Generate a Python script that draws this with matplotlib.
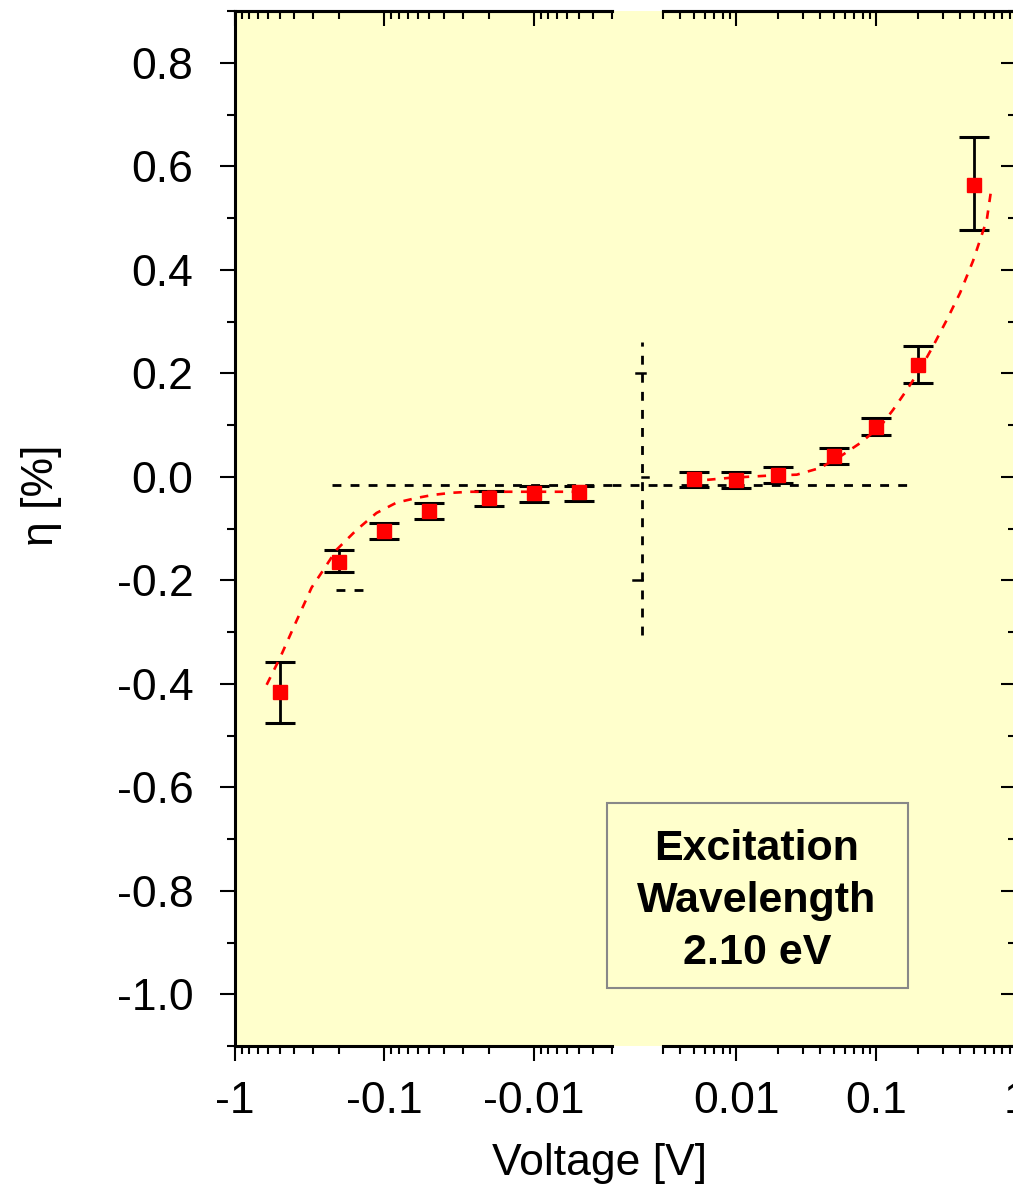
import matplotlib
matplotlib.use('Agg')
import matplotlib.pyplot as plt
from matplotlib.ticker import LogLocator, FixedLocator, MultipleLocator, FuncFormatter, NullFormatter
from matplotlib.patches import Rectangle

plt.rcParams['font.family'] = ['Liberation Sans', 'DejaVu Sans']
plt.rcParams['axes.unicode_minus'] = False

# ---------------- data ----------------
# negative bias (plotted as |V| on inverted log axis)
v_neg = [0.5, 0.2, 0.1, 0.05, 0.02, 0.01, 0.005]
eta_neg = [-0.416, -0.164, -0.104, -0.066, -0.042, -0.032, -0.030]
eta_neg_top = [-0.358, -0.141, -0.090, -0.051, -0.027, -0.017, -0.017]
eta_neg_bot = [-0.475, -0.185, -0.120, -0.081, -0.057, -0.048, -0.046]

# positive bias
v_pos = [0.005, 0.01, 0.02, 0.05, 0.1, 0.2, 0.5]
eta_pos = [-0.005, -0.006, 0.004, 0.041, 0.097, 0.216, 0.564]
eta_pos_top = [0.010, 0.009, 0.019, 0.055, 0.113, 0.252, 0.656]
eta_pos_bot = [-0.019, -0.022, -0.012, 0.025, 0.080, 0.182, 0.477]

# fit curves
fit_neg_v = [0.614, 0.5, 0.387, 0.307, 0.263, 0.209, 0.154, 0.113, 0.083, 0.061,
             0.047, 0.0355, 0.0268, 0.0145, 0.0053]
fit_neg_eta = [-0.402, -0.350, -0.278, -0.214, -0.185, -0.141, -0.103, -0.070, -0.050,
               -0.041, -0.035, -0.031, -0.029, -0.029, -0.029]
fit_pos_v = [0.0062, 0.0091, 0.0166, 0.0271, 0.0398, 0.0553, 0.0769, 0.107, 0.132,
             0.166, 0.206, 0.255, 0.320, 0.398, 0.493, 0.618, 0.66]
fit_pos_eta = [-0.006, -0.002, 0.002, 0.004, 0.017, 0.039, 0.065, 0.097, 0.129,
               0.168, 0.207, 0.252, 0.303, 0.355, 0.417, 0.496, 0.549]

# reference dashed lines
ref_level = -0.0155
ref_neg_start = 0.224
ref_pos_end = 0.18
short_dash_level = -0.218
short_dash_v = [0.211, 0.139]
vline_range = [-0.305, 0.261]

x_left_ticks = [1, 0.1, 0.01]
x_right_ticks = [0.01, 0.1, 1]
y_ticks = [-1.0, -0.8, -0.6, -0.4, -0.2, 0.0, 0.2, 0.4, 0.6, 0.8]

# ---------------- figure ----------------
W, H = 1013, 1187
fig = plt.figure(figsize=(W / 100, H / 100), dpi=100)


def fx(px):
    return px / W


def fy(py):
    return 1 - py / H


YELLOW = '#FFFFCC'
TOP, BOT = 11, 1046
fig.patches.append(Rectangle((fx(235), fy(BOT)), fx(1013) - fx(235) + 0.01, fy(TOP) - fy(BOT),
                             transform=fig.transFigure, facecolor=YELLOW, edgecolor='none',
                             zorder=-1))

YLIM = (-1.1, 0.9)
LW_SP = 2.2
TICK_W = 1.5
MAJ, MIN = 11, 5.5
FS = 32


def make_axes(x0, x1):
    rect = [fx(x0), fy(BOT), fx(x1) - fx(x0), fy(TOP) - fy(BOT)]
    ax = fig.add_axes(rect)
    axt = fig.add_axes(rect)
    for a in (ax, axt):
        a.patch.set_visible(False)
        a.set_xscale('log')
        a.set_ylim(*YLIM)
        for s in a.spines.values():
            s.set_linewidth(LW_SP)
    return ax, axt


def setup_x(ax, axt, xlim, ticks, fmt):
    for a in (ax, axt):
        a.set_xlim(*xlim)
        a.xaxis.set_major_locator(FixedLocator(ticks))
        a.xaxis.set_minor_locator(LogLocator(base=10, subs=range(2, 10), numticks=20))
        a.xaxis.set_minor_formatter(NullFormatter())
    ax.xaxis.set_major_formatter(FuncFormatter(fmt))
    ax.tick_params(axis='x', which='both', bottom=True, top=False, direction='out',
                   width=TICK_W, labelsize=FS, pad=14)
    ax.tick_params(axis='x', which='major', length=MAJ)
    ax.tick_params(axis='x', which='minor', length=MIN)
    axt.xaxis.set_major_formatter(NullFormatter())
    axt.tick_params(axis='x', which='both', bottom=False, top=True, labelbottom=False,
                    direction='in', width=TICK_W)
    axt.tick_params(axis='x', which='major', length=MAJ)
    axt.tick_params(axis='x', which='minor', length=MIN)
    axt.tick_params(axis='y', which='both', left=False, right=False, labelleft=False)
    for s in ['left', 'right', 'bottom']:
        axt.spines[s].set_visible(False)


axL, axLt = make_axes(235, 612)
axR, axRt = make_axes(663, 1016)

setup_x(axL, axLt, (1, 0.003), x_left_ticks, lambda v, p: '-%g' % v)
setup_x(axR, axRt, (0.003, 1.0), x_right_ticks, lambda v, p: '%g' % v)

axL.spines['right'].set_visible(False)
axR.spines['left'].set_visible(False)

for a in (axL, axR):
    a.yaxis.set_major_locator(FixedLocator(y_ticks))
    a.yaxis.set_minor_locator(MultipleLocator(0.1))

axL.yaxis.set_major_formatter(FuncFormatter(lambda v, p: '%.1f' % v))
axL.tick_params(axis='y', which='both', left=True, right=False, direction='out',
                width=TICK_W, labelsize=FS, pad=19)
axL.tick_params(axis='y', which='major', length=MAJ)
axL.tick_params(axis='y', which='minor', length=MIN)

axR.tick_params(axis='y', which='both', left=False, right=True, labelleft=False,
                direction='in', width=TICK_W)
axR.tick_params(axis='y', which='major', length=MAJ)
axR.tick_params(axis='y', which='minor', length=MIN)

# ---------------- data drawing ----------------
DASH_RED = (0, (3.2, 3.2))
DASH_BLK = (0, (3.2, 3.3))
LW_RED = 1.9
LW_BLK = 2.0


def draw(ax, v, eta, top, bot, fv, feta):
    yerr = [[e - b for e, b in zip(eta, bot)], [t - e for t, e in zip(top, eta)]]
    ax.errorbar(v, eta, yerr=yerr, fmt='none', ecolor='black', elinewidth=2.0,
                capsize=11, capthick=2.2, zorder=3)
    ax.plot(fv, feta, color='red', lw=LW_RED, ls=DASH_RED, zorder=4)
    ax.plot(v, eta, ls='none', marker='s', ms=9.5, mfc='red', mec='red', zorder=5)


draw(axL, v_neg, eta_neg, eta_neg_top, eta_neg_bot, fit_neg_v, fit_neg_eta)
draw(axR, v_pos, eta_pos, eta_pos_top, eta_pos_bot, fit_pos_v, fit_pos_eta)

axL.plot([ref_neg_start, 0.003], [ref_level, ref_level], color='black', lw=LW_BLK,
         ls=DASH_BLK, zorder=2)
axR.plot([0.003, ref_pos_end], [ref_level, ref_level], color='black', lw=LW_BLK,
         ls=DASH_BLK, zorder=2)
axL.plot(short_dash_v, [short_dash_level, short_dash_level], color='black', lw=LW_BLK,
         ls=DASH_BLK, zorder=2)

# gap overlay with vertical dashed marker
axG = fig.add_axes([fx(612), fy(BOT), fx(663) - fx(612), fy(TOP) - fy(BOT)])
axG.patch.set_visible(False)
axG.set_xlim(0, 1)
axG.set_ylim(*YLIM)
axG.axis('off')
axG.plot([0, 1], [ref_level, ref_level], color='black', lw=LW_BLK, ls=DASH_BLK)
axG.plot([0.59, 0.59], vline_range, color='black', lw=LW_BLK, ls=DASH_BLK)
axG.plot([0.47, 0.65], [0.2, 0.2], color='black', lw=1.8)
axG.plot([0.59, 0.70], [0.0, 0.0], color='black', lw=1.8)
axG.plot([0.41, 0.59], [-0.2, -0.2], color='black', lw=1.8)

# ---------------- labels ----------------
fig.text(fx(41), fy(495), 'η [%]', rotation=90, ha='center', va='center', fontsize=FS)
fig.text(fx(600), fy(1164), 'Voltage [V]', ha='center', va='center', fontsize=FS)

fig.patches.append(Rectangle((fx(607), fy(988)), fx(908) - fx(607), fy(803) - fy(988),
                             transform=fig.transFigure, facecolor='none',
                             edgecolor='#888888', lw=1.5, zorder=6))
fig.text(fx(757), fy(901), 'Excitation\nWavelength\n2.10 eV', ha='center', va='center',
         fontsize=31, fontweight='bold', linespacing=1.38, zorder=7)

fig.savefig('out.png', dpi=100)
